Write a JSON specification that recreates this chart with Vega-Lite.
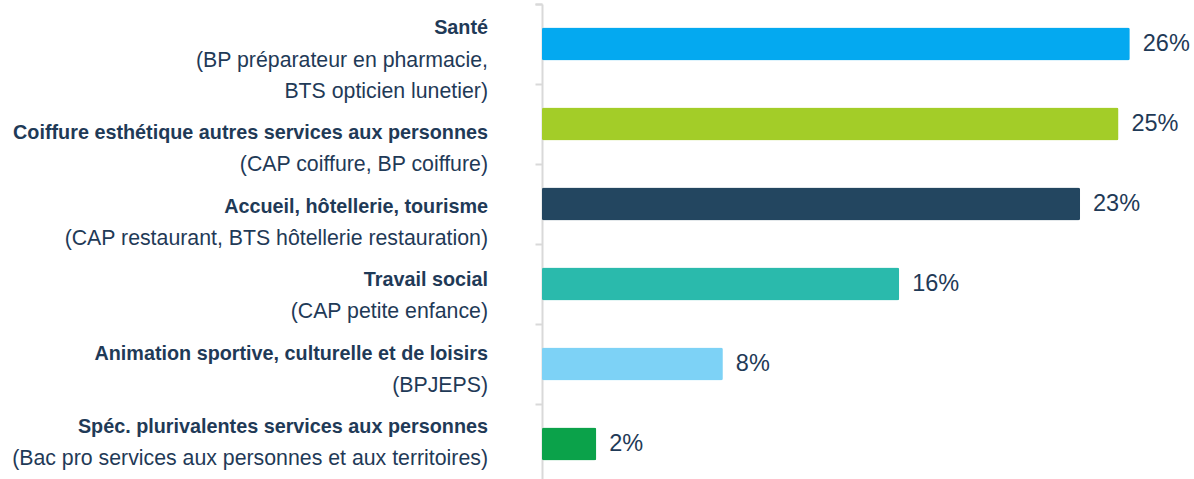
{
  "$schema": "https://vega.github.io/schema/vega-lite/v6.json",
  "width": 633,
  "height": 480,
  "autosize": {"type": "none"},
  "padding": {"left": 542, "top": 4, "right": 19, "bottom": 0},
  "background": "white",
  "config": {"view": {"stroke": null}, "font": "Liberation Sans"},
  "data": {
    "values": [
      {"cat": "Santé", "sub": "(BP préparateur en pharmacie,\nBTS opticien lunetier)", "value": 26.0, "label": "26%", "color": "#04A9F0"},
      {"cat": "Coiffure esthétique autres services aux personnes", "sub": "(CAP coiffure, BP coiffure)", "value": 25.5, "label": "25%", "color": "#A3CD28"},
      {"cat": "Accueil, hôtellerie, tourisme", "sub": "(CAP restaurant, BTS hôtellerie restauration)", "value": 23.8, "label": "23%", "color": "#234660"},
      {"cat": "Travail social", "sub": "(CAP petite enfance)", "value": 15.8, "label": "16%", "color": "#2ABAAC"},
      {"cat": "Animation sportive, culturelle et de loisirs", "sub": "(BPJEPS)", "value": 8.0, "label": "8%", "color": "#7DD2F6"},
      {"cat": "Spéc. plurivalentes services aux personnes", "sub": "(Bac pro services aux personnes et aux territoires)", "value": 2.4, "label": "2%", "color": "#0BA24A"}
    ]
  },
  "layer": [
    {
      "layer": [
        {
          "mark": {"type": "bar", "cornerRadius": 2},
          "encoding": {
            "y": {"field": "cat", "type": "nominal", "sort": null,
                  "scale": {"paddingInner": 0.5875, "paddingOuter": 0.29375},
                  "axis": {"title": null, "labels": false, "domainColor": "#D9D9D9", "domainWidth": 2,
                           "tickColor": "#D9D9D9", "tickWidth": 2, "tickSize": 7, "bandPosition": 0, "tickOffset": -23.5, "tickExtra": true, "grid": false}},
            "x": {"field": "value", "type": "quantitative", "scale": {"domain": [0, 28]}, "axis": null},
            "color": {"field": "color", "type": "nominal", "scale": null}
          }
        },
        {
          "mark": {"type": "text", "align": "left", "baseline": "middle", "dx": 13, "fontSize": 23.5, "color": "#1F3A57"},
          "encoding": {
            "y": {"field": "cat", "type": "nominal", "sort": null},
            "x": {"field": "value", "type": "quantitative"},
            "text": {"field": "label", "type": "nominal"}
          }
        }
      ]
    },
    {
      "layer": [
        {
          "transform": [{"filter": "indexof(datum.sub, '\\n') < 0"}],
          "layer": [
            {
              "mark": {"type": "text", "align": "right", "baseline": "middle", "dx": -54, "dy": -30, "fontSize": 19.8, "fontWeight": "bold", "color": "#1F3A57"},
              "encoding": {"text": {"field": "cat", "type": "nominal"}}
            },
            {
              "mark": {"type": "text", "align": "right", "baseline": "bottom", "dx": -54, "dy": 12, "fontSize": 21.3, "color": "#1F3A57"},
              "encoding": {"text": {"field": "sub", "type": "nominal"}}
            }
          ]
        },
        {
          "transform": [{"filter": "indexof(datum.sub, '\\n') >= 0"}],
          "layer": [
            {
              "mark": {"type": "text", "align": "right", "baseline": "middle", "dx": -54, "dy": -62, "fontSize": 19.8, "fontWeight": "bold", "color": "#1F3A57"},
              "encoding": {"text": {"field": "cat", "type": "nominal"}}
            },
            {
              "mark": {"type": "text", "align": "right", "baseline": "bottom", "dx": -54, "dy": -18.5, "fontSize": 21.3, "lineHeight": 30.5, "lineBreak": "\n", "color": "#1F3A57"},
              "encoding": {"text": {"field": "sub", "type": "nominal"}}
            }
          ]
        }
      ],
      "encoding": {
        "x": {"datum": 0},
        "y": {"field": "cat", "type": "nominal", "sort": null,
              "scale": {"type": "point", "padding": 0.765, "align": 0.761,
                        "domain": ["Santé", "Coiffure esthétique autres services aux personnes", "Accueil, hôtellerie, tourisme", "Travail social", "Animation sportive, culturelle et de loisirs", "Spéc. plurivalentes services aux personnes"]},
              "axis": null}
      }
    }
  ],
  "resolve": {"scale": {"y": "independent"}}
}
